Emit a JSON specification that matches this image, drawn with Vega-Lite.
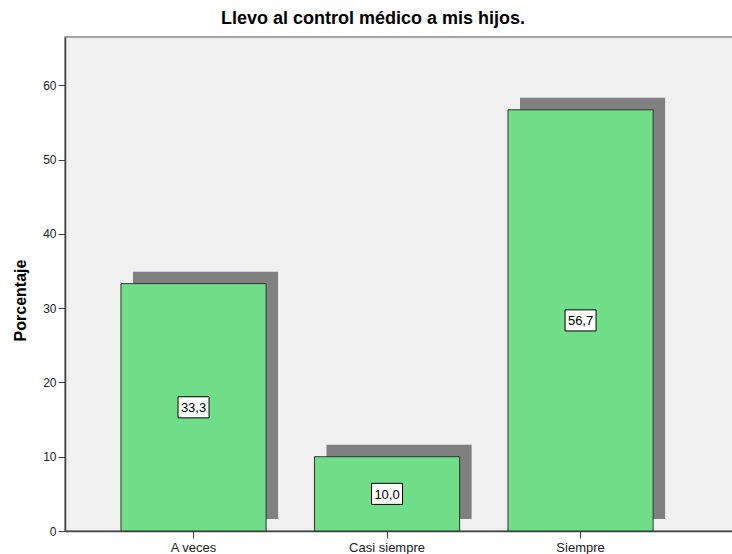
{
  "$schema": "https://vega.github.io/schema/vega-lite/v6.json",
  "width": 668,
  "height": 494,
  "autosize": {"type": "none"},
  "padding": {"left": 65, "top": 37, "right": 0, "bottom": 23},
  "background": "white",
  "config": {
    "view": {"fill": "#f0f0f0", "stroke": "#8a8a8a", "strokeWidth": 1.5},
    "font": "Liberation Sans"
  },
  "title": {
    "text": "Llevo al control médico a mis hijos.",
    "fontSize": 18,
    "fontWeight": "bold",
    "font": "Liberation Sans",
    "color": "#000000",
    "anchor": "middle",
    "dx": -26,
    "offset": 9
  },
  "data": {
    "values": [
      {"cat": "A veces", "pct": 33.3, "label": "33,3"},
      {"cat": "Casi siempre", "pct": 10.0, "label": "10,0"},
      {"cat": "Siempre", "pct": 56.7, "label": "56,7"}
    ]
  },
  "encoding": {
    "x": {
      "field": "cat",
      "type": "nominal",
      "sort": null,
      "scale": {"paddingInner": 0.25, "paddingOuter": 0.351, "align": 0.412},
      "axis": {
        "title": null,
        "labelAngle": 0,
        "labelFontSize": 13,
        "labelColor": "#222222",
        "labelPadding": 3,
        "tickSize": 7,
        "tickColor": "#444444",
        "domainColor": "#444444",
        "domainWidth": 1.5
      }
    }
  },
  "layer": [
    {
      "mark": {"type": "bar", "color": "#808080", "xOffset": 12, "x2Offset": 12, "yOffset": -12, "y2Offset": -12},
      "encoding": {
        "y": {
          "field": "pct",
          "type": "quantitative",
          "scale": {"domain": [0, 66.5], "nice": false},
          "axis": {
            "title": "Porcentaje",
            "titleFontSize": 16,
            "titleFontWeight": "bold",
            "titleColor": "#000000",
            "titleBaseline": "alphabetic",
            "titleAngle": -90,
            "titleX": -40,
            "titleY": 263,
            "titleAlign": "center",
            "values": [0, 10, 20, 30, 40, 50, 60],
            "grid": false,
            "labelFontSize": 12,
            "labelColor": "#222222",
            "labelPadding": 2,
            "tickSize": 7,
            "tickColor": "#444444",
            "domainColor": "#444444",
            "domainWidth": 1.5
          }
        }
      }
    },
    {
      "mark": {"type": "bar", "color": "#70dd88", "stroke": "#333333", "strokeWidth": 1},
      "encoding": {"y": {"field": "pct", "type": "quantitative"}}
    },
    {
      "transform": [{"calculate": "datum.pct / 2", "as": "mid"}],
      "mark": {
        "type": "point",
        "shape": "M-1,-0.68L1,-0.68L1,0.68L-1,0.68Z",
        "size": 961,
        "filled": true,
        "fill": "white",
        "stroke": "#000000",
        "strokeWidth": 1,
        "opacity": 1
      },
      "encoding": {"y": {"field": "mid", "type": "quantitative"}}
    },
    {
      "transform": [{"calculate": "datum.pct / 2", "as": "mid"}],
      "mark": {"type": "text", "fontSize": 13, "color": "#000000", "baseline": "middle", "align": "center", "dy": 1},
      "encoding": {
        "y": {"field": "mid", "type": "quantitative"},
        "text": {"field": "label"}
      }
    }
  ]
}
